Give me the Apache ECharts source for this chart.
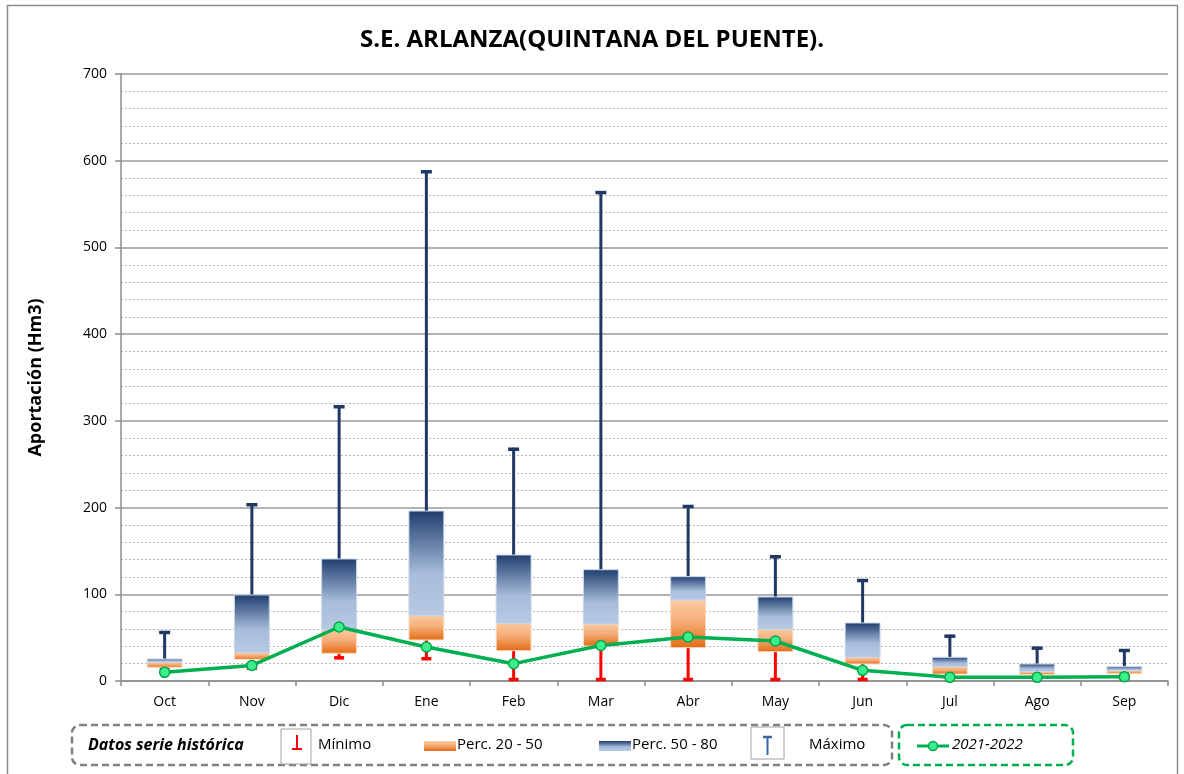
<html>
<head>
    <meta charset="utf-8">
</head>
<body style="margin:0">
    <script src="https://cdn.jsdelivr.net/npm/echarts@6/dist/echarts.min.js"></script>
    <div id="main" style="width: 1184px;height: 774px"></div>
    <script>

var meses = ['Oct', 'Nov', 'Dic', 'Ene', 'Feb', 'Mar', 'Abr', 'May', 'Jun', 'Jul', 'Ago', 'Sep'];
var minimo = [14, 13, 25, 24, 0, 0, 0, 0, 0, 5, 5, 1];
var perc20 = [15.8, 25, 32, 47.3, 35, 40.4, 38.4, 33.8, 19.6, 8, 7.3, 8.4];
var perc50 = [21.6, 32.7, 58.8, 75.3, 66.5, 65.7, 93.4, 59.6, 27.3, 16.5, 10.8, 11.9];
var perc80 = [25.4, 99.2, 140.7, 196, 145.3, 128.3, 120.3, 96.9, 66.9, 27.3, 19.6, 16.5];
var maximo = [57.7, 205, 318, 589, 269, 565, 203, 145, 117.6, 53.4, 39.6, 36.9];
var actual = [10, 18, 62.3, 39.2, 20, 41, 50.7, 46.1, 12.3, 4.2, 4.2, 5];

var FONT = '"Open Sans", "Noto Sans", sans-serif';

var cajas = meses.map(function (m, i) {
    return [i, minimo[i], perc20[i], perc50[i], perc80[i], maximo[i]];
});

var gradNaranja = function () {
    return new echarts.graphic.LinearGradient(0, 0, 0, 1, [
        { offset: 0, color: '#fbcaa0' },
        { offset: 0.45, color: '#f5ad78' },
        { offset: 1, color: '#e46a12' }
    ]);
};
var gradAzul = function () {
    return new echarts.graphic.LinearGradient(0, 0, 0, 1, [
        { offset: 0, color: '#1f3d6e' },
        { offset: 0.6, color: '#a8bddb' },
        { offset: 1, color: '#b7c9e3' }
    ]);
};

function renderCaja(params, api) {
    var i = api.value(0);
    var pMin = api.coord([i, api.value(1)]);
    var p20 = api.coord([i, api.value(2)]);
    var p50 = api.coord([i, api.value(3)]);
    var p80 = api.coord([i, api.value(4)]);
    var pMax = api.coord([i, api.value(5)]);
    var w = api.size([1, 0])[0] * 0.4;
    var cx = p20[0];
    return {
        type: 'group',
        children: [
            // minimo
            { type: 'line', shape: { x1: cx, y1: p20[1], x2: cx, y2: pMin[1] }, style: { stroke: '#ff0000', lineWidth: 3 } },
            { type: 'line', shape: { x1: cx - 5, y1: pMin[1] - 1.5, x2: cx + 5, y2: pMin[1] - 1.5 }, style: { stroke: '#ff0000', lineWidth: 3.5 } },
            // maximo
            { type: 'line', shape: { x1: cx, y1: p80[1], x2: cx, y2: pMax[1] }, style: { stroke: '#1f3864', lineWidth: 3 } },
            { type: 'line', shape: { x1: cx - 5.5, y1: pMax[1] + 1.5, x2: cx + 5.5, y2: pMax[1] + 1.5 }, style: { stroke: '#1f3864', lineWidth: 3.5 } },
            // perc 20-50
            { type: 'rect', shape: { x: cx - w / 2, y: p50[1], width: w, height: p20[1] - p50[1] },
              style: { fill: gradNaranja(), stroke: '#fbdcc4', lineWidth: 1 } },
            // perc 50-80
            { type: 'rect', shape: { x: cx - w / 2, y: p80[1], width: w, height: p50[1] - p80[1] },
              style: { fill: gradAzul(), stroke: '#c9d6ea', lineWidth: 1 } }
        ]
    };
}

var myChart = echarts.init(document.getElementById('main'));

option = {
    backgroundColor: '#fff',
    animation: false,
    title: {
        text: 'S.E. ARLANZA(QUINTANA DEL PUENTE).',
        left: 'center',
        top: 23,
        textStyle: { fontFamily: FONT, fontSize: 24, fontWeight: 'bold', color: '#000' }
    },
    grid: { left: 121, right: 16, top: 74, bottom: 93 },
    xAxis: {
        type: 'category',
        data: meses,
        boundaryGap: true,
        axisLine: { lineStyle: { color: '#8c8c8c', width: 1.5 } },
        axisTick: { show: true, length: 5, lineStyle: { color: '#8c8c8c', width: 1.5 } },
        axisLabel: { color: '#000', fontSize: 14, fontFamily: FONT, margin: 14 }
    },
    yAxis: {
        type: 'value',
        min: 0,
        max: 700,
        interval: 100,
        name: 'Aportación (Hm3)',
        nameLocation: 'middle',
        nameGap: 76,
        nameTextStyle: { fontFamily: FONT, fontSize: 18, fontWeight: 'bold', color: '#000' },
        axisLine: { show: true, lineStyle: { color: '#8c8c8c', width: 1.5 } },
        axisTick: { show: true, length: 6, lineStyle: { color: '#8c8c8c', width: 1.5 } },
        axisLabel: { color: '#000', fontSize: 14, fontFamily: FONT, margin: 14 },
        splitLine: { lineStyle: { color: '#9a9a9a', width: 1.5 } },
        minorTick: { show: false, splitNumber: 5 },
        minorSplitLine: { show: true, lineStyle: { color: '#b8b8b8', width: 1, type: [2, 2] } }
    },
    series: [
        {
            name: 'Datos serie histórica',
            type: 'custom',
            renderItem: renderCaja,
            encode: { x: 0, y: [1, 2, 3, 4, 5] },
            data: cajas,
            z: 2
        },
        {
            name: '2021-2022',
            type: 'line',
            data: actual,
            symbol: 'circle',
            symbolSize: 10,
            lineStyle: { color: '#00b050', width: 3.5 },
            itemStyle: { color: '#3def8c', borderColor: '#00a84c', borderWidth: 1.5 },
            z: 5
        }
    ],
    graphic: [
        { type: 'rect', silent: true, shape: { x: 7.5, y: 5.5, width: 1170, height: 800 },
          style: { fill: 'none', stroke: '#8c8c8c', lineWidth: 1.5 } },
        { type: 'rect', silent: true, shape: { x: 72, y: 725, width: 820, height: 40, r: 8 },
          style: { fill: 'none', stroke: '#7f7f7f', lineWidth: 2.5, lineDash: [7, 4] } },
        { type: 'rect', silent: true, shape: { x: 899, y: 725, width: 174, height: 40, r: 8 },
          style: { fill: 'none', stroke: '#00b050', lineWidth: 2.5, lineDash: [7, 4] } },
        { type: 'text', silent: true, x: 88, y: 745,
          style: { text: 'Datos serie histórica', fill: '#000', font: 'italic bold 16px ' + FONT, verticalAlign: 'middle' } },
        // Minimo
        { type: 'rect', silent: true, shape: { x: 281, y: 729, width: 30, height: 35 },
          style: { fill: '#fff', stroke: '#a0a0a0', lineWidth: 1 } },
        { type: 'line', silent: true, shape: { x1: 297, y1: 735, x2: 297, y2: 749 }, style: { stroke: '#ff0000', lineWidth: 2 } },
        { type: 'line', silent: true, shape: { x1: 292, y1: 749, x2: 302, y2: 749 }, style: { stroke: '#ff0000', lineWidth: 2 } },
        { type: 'text', silent: true, x: 318, y: 745,
          style: { text: 'Mínimo', fill: '#000', font: '15px ' + FONT, verticalAlign: 'middle' } },
        // Perc 20-50
        { type: 'rect', silent: true, shape: { x: 424, y: 741, width: 32, height: 10 }, style: { fill: gradNaranja() } },
        { type: 'text', silent: true, x: 457, y: 745,
          style: { text: 'Perc. 20 - 50', fill: '#000', font: '15px ' + FONT, verticalAlign: 'middle' } },
        // Perc 50-80
        { type: 'rect', silent: true, shape: { x: 599, y: 741, width: 32, height: 10 }, style: { fill: gradAzul() } },
        { type: 'text', silent: true, x: 632, y: 745,
          style: { text: 'Perc. 50 - 80', fill: '#000', font: '15px ' + FONT, verticalAlign: 'middle' } },
        // Maximo
        { type: 'rect', silent: true, shape: { x: 751, y: 727, width: 33, height: 32 },
          style: { fill: '#fff', stroke: '#a0a0a0', lineWidth: 1 } },
        { type: 'line', silent: true, shape: { x1: 767.5, y1: 737, x2: 767.5, y2: 755 }, style: { stroke: '#3a67a3', lineWidth: 2 } },
        { type: 'line', silent: true, shape: { x1: 763, y1: 737, x2: 772, y2: 737 }, style: { stroke: '#3a67a3', lineWidth: 2.5 } },
        { type: 'text', silent: true, x: 809, y: 745,
          style: { text: 'Máximo', fill: '#000', font: '15px ' + FONT, verticalAlign: 'middle' } },
        // 2021-2022
        { type: 'line', silent: true, shape: { x1: 917, y1: 746, x2: 949, y2: 746 }, style: { stroke: '#00b050', lineWidth: 3 } },
        { type: 'circle', silent: true, shape: { cx: 933, cy: 746, r: 4.5 }, style: { fill: '#3def8c', stroke: '#00a84c', lineWidth: 1.5 } },
        { type: 'text', silent: true, x: 952, y: 745,
          style: { text: '2021-2022', fill: '#000', font: 'italic 15px ' + FONT, verticalAlign: 'middle' } }
    ]
};

myChart.setOption(option);

</script>
</body>
</html>
